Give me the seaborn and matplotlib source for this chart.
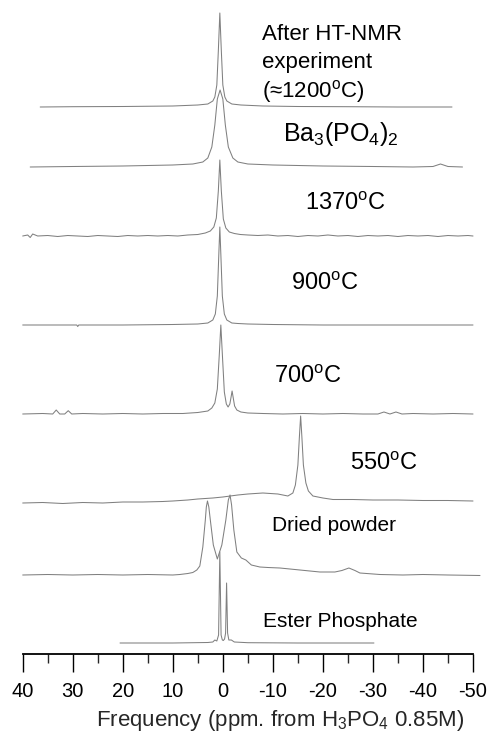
import numpy as np
import pandas as pd
import matplotlib
matplotlib.use("Agg")
import matplotlib.pyplot as plt
import seaborn as sns

# ---------------- data (ppm, intensity a.u.) ----------------
samples = ["After HT-NMR", "Ba3(PO4)2", "1370C", "900C", "700C", "550C",
           "Dried powder", "Ester Phosphate"]

ppm_ht = [36.5, 30, 20, 10, 5, 3, 2, 1.6, 1.2, 0.9, 0.6, 0.3, 0.0, -0.4, -0.8,
          -1.8, -3.6, -8, -15, -25, -35, -45.8]
int_ht = [0, 0.3, 0.5, 1, 2, 3, 6, 10, 22, 56, 94, 56, 22, 10, 6,
          3, 2, 1, 0.5, 0.3, 0, 0]

ppm_ba = [38.5, 30, 20, 10, 6, 4, 3, 2.2, 1.6, 1.1, 0.55, 0.0, -0.5, -1.1, -2,
          -3, -5, -10, -20, -30, -38, -42, -43.5, -45, -47.9]
int_ba = [0, 0.5, 1, 2, 3, 5, 9, 20, 42, 68, 77, 68, 42, 20, 9,
          5, 3, 2, 1, 0.5, 0, 0.5, 3, 0.5, 0]

ppm_1370 = [40, 39, 38.5, 38, 37, 35, 33, 31, 29, 27, 25, 23, 21, 19, 17, 15, 13,
            11, 9, 7, 5, 3.5, 2.5, 1.8, 1.3, 0.9, 0.6, 0.3, -0.1, -0.6, -1.3,
            -2.3, -3.5, -5, -7, -9, -11, -13, -15, -17, -19, -21, -23, -25, -27,
            -29, -31, -33, -35, -37, -39, -41, -43, -45, -47, -49, -50]
int_1370 = [0, 1, -1.5, 2, 0, 0.5, -0.5, 0.5, 0, -0.5, 0.5, 0, -0.5, 0.5, 0, 0.5, 0,
            0.5, 0, 1, 1.5, 3, 5, 9, 18, 45, 76, 45, 17, 8, 4,
            2.5, 1.5, 1, 0.5, 1, 0, 0.5, -0.5, 0.5, 0, 1, 0, 0.5, -0.5,
            0.5, 0, 0.5, -0.5, 0.5, 0, 0.5, -0.5, 0.5, 0, 0.5, 0]

ppm_900 = [40, 30, 29.2, 29, 28.8, 20, 10, 5, 3, 2, 1.5, 1.1, 0.8, 0.6, 0.4, 0.1,
           -0.3, -0.8, -1.8, -3, -5, -10, -20, -30, -40, -50]
int_900 = [0, 0, 0, -1.5, 0, 0, 0.5, 1, 2, 5, 11, 29, 71, 98, 71, 29,
           11, 5, 2, 1.5, 1, 0.5, 0, 0, 0, 0]

ppm_700 = [40, 36, 34, 33.3, 32.6, 31.6, 30.9, 30.2, 28, 24, 20, 16, 12, 8, 5, 3,
           2.2, 1.6, 1.1, 0.7, 0.4, 0.1, -0.3, -0.7, -1.05, -1.4, -1.65, -1.85,
           -2.05, -2.35, -2.8, -3.6, -5, -8, -12, -16, -20, -24, -28, -31, -32.2,
           -33.4, -34.6, -35.8, -38, -42, -46, -50]
int_700 = [0, 0.5, 0, 4, 0, 0, 3.3, 0, 0.5, 0, 0.5, 0, 0.5, 0.5, 1.5, 3,
           6, 11, 25, 60, 89, 60, 22, 10, 7, 10, 17, 23,
           17, 8, 4, 2, 1, 0.5, 0, 0.5, 0, 0.5, 0, 0, 2,
           0, 2, 0, 0.5, 0, 0.5, 0]

ppm_550 = [40, 36, 32, 28, 24, 20, 16, 12, 10, 7, 5, 2, 0, -3, -5, -8, -11, -13,
           -14, -14.5, -15.0, -15.3, -15.55, -15.8, -16.1, -16.6, -17.1, -18, -20,
           -22, -26, -30, -35, -40, -45, -50]
int_550 = [0, 0.5, -0.5, 0.5, 0, 1, 1, 1.5, 2, 3, 4, 5, 6, 8, 9, 10, 9, 7,
           10, 18, 38, 66, 87, 66, 38, 20, 12, 7, 5,
           3.5, 3.5, 3, 3, 2.5, 2.5, 2]

ppm_dry = [40, 35, 30, 25, 20, 15, 10, 8.6, 7, 6, 5.2, 4.6, 4.0, 3.5, 3.3, 3.07,
           2.8, 2.5, 1.9, 1.1, 0.2, -0.6, -1.1, -1.44, -1.75, -2.2, -2.8, -3.7,
           -4.6, -5.7, -7.4, -9, -11.4, -15.4, -19.4, -22.4, -23.8, -25.2, -26.4,
           -27.4, -31.4, -36, -40, -45, -51.4]
int_dry = [0, 0.5, 0, 0.5, 0, 0.5, 0, 0.5, 1.5, 2.5, 5, 9, 28, 55, 68, 74,
           68, 55, 30, 16, 30, 55, 75, 80, 70, 45, 23, 17,
           15, 10, 8, 7.5, 7, 5, 3, 3, 4.5, 7, 4.5,
           2, 0.5, 0, 0.5, 0, -0.5]

ppm_est = [20.55, 10, 3, 2, 1.6, 1.2, 0.85, 0.6, 0.35, 0.1, -0.1, -0.35, -0.55,
           -0.75, -0.95, -1.2, -1.7, -2.3, -5, -15, -30.2]
int_est = [0, 0, 0.5, 1, 3, 2, 8, 91, 8, 3, 2.5, 4, 10,
           60, 10, 3, 3, 1, 0.3, 0, 0]

xticks = [40, 30, 20, 10, 0, -10, -20, -30, -40, -50]
xlabel = r"Frequency (ppm. from H$_3$PO$_4$ 0.85M)"

# ---------------- layout ----------------
offsets = [547, 487, 418, 329, 240, 151, 79, 11]   # stacking of spectra

spectra = [(ppm_ht, int_ht), (ppm_ba, int_ba), (ppm_1370, int_1370),
           (ppm_900, int_900), (ppm_700, int_700), (ppm_550, int_550),
           (ppm_dry, int_dry), (ppm_est, int_est)]

rows = []
for name, (p, v), off in zip(samples, spectra, offsets):
    for k, (pp, vv) in enumerate(zip(p, v)):
        rows.append({"sample": name, "order": k, "ppm": pp, "y": vv + off})
df = pd.DataFrame(rows)

sns.set_style("white")
plt.rcParams["font.family"] = ["Liberation Sans", "DejaVu Sans"]
plt.rcParams["mathtext.fontset"] = "custom"
plt.rcParams["mathtext.rm"] = "Liberation Sans"
plt.rcParams["mathtext.it"] = "Liberation Sans:italic"
plt.rcParams["mathtext.bf"] = "Liberation Sans:bold"

W, H = 492, 732
fig = plt.figure(figsize=(W / 100, H / 100), dpi=100)
ax = fig.add_axes([22.7 / W, 78 / H, 450.3 / W, 654 / H])

sns.lineplot(data=df, x="ppm", y="y", units="sample", estimator=None,
             sort=False, color="#808080", linewidth=0.75, ax=ax, clip_on=False)

ax.set_xlim(40, -50)
ax.set_ylim(0, 654)
ax.set_yticks([])
ax.set_ylabel("")
ax.set_xticks(xticks)
ax.set_xticks(np.arange(35, -50, -10), minor=True)
ax.set_xticklabels([str(t) for t in xticks])
ax.tick_params(axis="x", which="major", direction="out", length=13, width=1.0,
               pad=7, labelsize=14.5, colors="black", bottom=True)
ax.tick_params(axis="x", which="minor", direction="out", length=6.5, width=1.0,
               bottom=True)
sns.despine(ax=ax, left=True, top=True, right=True)
ax.spines["bottom"].set_linewidth(1.3)
ax.spines["bottom"].set_color("black")

ax.set_xlabel(xlabel, fontsize=16)
ax.xaxis.set_label_coords((280 - 22.7) / 450.3, (654 - 726) / 654)
ax.xaxis.label.set_va("baseline")

def px2ppm(px):
    return 40 - (px - 22.7) / 5.003

deg = r"$^{\mathrm{o}}$"
labels = [
    ("After HT-NMR", 262, 40, 16),
    ("experiment", 262, 68, 16),
    ("(\u22481200" + deg + "C)", 262, 97, 16),
    (r"Ba$_3$(PO$_4$)$_2$", 283, 141, 18),
    ("1370" + deg + "C", 305, 210, 17),
    ("900" + deg + "C", 291, 290, 17),
    ("700" + deg + "C", 274, 383, 17),
    ("550" + deg + "C", 350, 470, 17),
    ("Dried powder", 272, 531, 15),
    ("Ester Phosphate", 263, 627, 15),
]
for txt, px, py, fs in labels:
    ax.text(px2ppm(px), 654 - py, txt, fontsize=fs, ha="left", va="baseline",
            color="black")

fig.savefig("out.png", dpi=100)
